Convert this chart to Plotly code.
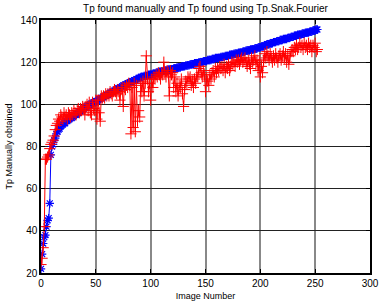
import plotly.graph_objects as go

image_number = list(range(253))

tp_fourier = [
    22, 29, 34, 37, 38, 42, 45, 46, 53, 76,
    80, 81, 83, 84, 86, 87, 88, 88.5, 89.5, 90,
    90.5, 91, 91, 92, 92, 92.5, 93, 93.5, 93.5, 94,
    94.5, 95, 95, 95.5, 96, 96.5, 96.5, 97, 97.5, 98,
    98.5, 98.5, 99, 99.5, 99.5, 100, 100.5, 100.5, 101, 101,
    101.5, 101.5, 102, 102.5, 102.5, 103, 103, 103.5, 104, 104,
    104.5, 104.5, 105, 105.5, 105.5, 106, 106, 106.5, 107, 107,
    107.5, 107.5, 108, 108, 108.5, 109, 109, 109.5, 109.5, 110,
    110, 110.5, 110.5, 111, 111, 111.5, 111.5, 112, 112, 112.5,
    112.5, 113, 113, 113, 113.5, 113.5, 113.5, 113.5, 114, 114,
    114, 114, 114.5, 114.5, 114.5, 115, 115, 115, 115.5, 115.5,
    115.5, 115.5, 116, 116, 116, 116, 116.5, 116.5, 116.5, 116.5,
    116.5, 117, 117, 117, 117.5, 117.5, 117.5, 117.5, 118, 118,
    118, 118, 118.5, 118.5, 118.5, 118.5, 119, 119, 119, 119,
    119.5, 119.5, 119.5, 119.5, 120, 120, 120, 120, 120.5, 120.5,
    120.5, 120.5, 121, 121, 121, 121, 121.5, 121.5, 121.5, 122,
    122, 122, 122, 122, 122.5, 122.5, 122.5, 122.5, 123, 123,
    123, 123, 123.5, 123.5, 123.5, 123.5, 124, 124, 124, 124,
    124.5, 124.5, 124.5, 124.5, 125, 125, 125, 125.5, 125.5, 125.5,
    125.5, 126, 126, 126, 126, 126.5, 126.5, 126.5, 127, 127,
    127, 127.5, 127.5, 127.5, 128, 128, 128.5, 128.5, 128.5, 129,
    129, 129, 129.5, 129.5, 129.5, 130, 130, 130, 130.5, 130.5,
    130.5, 131, 131, 131, 131, 131.5, 131.5, 131.5, 132, 132,
    132, 132.5, 132.5, 132.5, 133, 133, 133, 133, 133.5, 133.5,
    133.5, 134, 134, 134, 134, 134.5, 134.5, 134.5, 135, 135,
    135, 135.5, 135.5,
]

tp_manual = [
    24, 27, 32, 42, 74, 74, 75, 76, 79, 81,
    82, 83, 85, 88, 90, 91, 93, 92, 95, 94,
    93, 96, 94, 95, 93, 96, 95, 94, 96, 95,
    97, 96, 95, 97, 98, 96, 98, 97, 99, 98,
    95, 99, 100, 97, 101, 96, 95, 101, 98, 97,
    102, 93, 102, 96, 92, 104, 103, 104, 103, 105,
    104, 105, 104, 106, 105, 104, 106, 107, 106, 105,
    107, 106, 102, 107, 108, 99, 108, 107, 109, 108,
    110, 109, 86, 108, 89, 110, 87, 109, 92, 97,
    94, 110, 106, 111, 104, 110, 123, 112, 106, 110,
    102, 112, 108, 113, 112, 114, 113, 115, 114, 112,
    115, 114, 120, 115, 113, 116, 115, 104, 116, 114,
    115, 108, 113, 106, 110, 104, 109, 108, 112, 105,
    99, 107, 111, 110, 113, 112, 113, 109, 111, 108,
    112, 110, 114, 113, 117, 118, 115, 113, 116, 114,
    106, 112, 111, 109, 114, 112, 115, 116, 113, 117,
    115, 117, 116, 118, 117, 118, 116, 119, 115, 118,
    117, 119, 116, 118, 120, 119, 120, 118, 121, 120,
    121, 119, 121, 122, 120, 121, 122, 120, 118, 121,
    119, 117, 122, 120, 121, 123, 119, 121, 116, 120,
    113, 118, 115, 121, 124, 122, 125, 123, 121, 124,
    122, 120, 123, 121, 124, 122, 120, 123, 124, 121,
    123, 125, 122, 124, 120, 123, 119, 123, 125, 126,
    125, 127, 126, 128, 126, 127, 129, 127, 128, 126,
    129, 127, 128, 126, 129, 127, 128, 125, 128, 127,
    129, 125, 126,
]

x_ticks = [0, 50, 100, 150, 200, 250, 300]
y_ticks = [20, 40, 60, 80, 100, 120, 140]

fig = go.Figure()
fig.add_trace(go.Scatter(
    x=image_number, y=tp_fourier, mode="lines+markers",
    line=dict(color="#0000ff", width=1),
    marker=dict(symbol="asterisk-open", size=7, color="#0000ff",
                line=dict(color="#0000ff", width=1.2)),
    showlegend=False,
))
fig.add_trace(go.Scatter(
    x=image_number, y=tp_manual, mode="lines+markers",
    line=dict(color="#ff0000", width=1),
    marker=dict(symbol="cross-thin-open", size=8, color="#ff0000",
                line=dict(color="#ff0000", width=1)),
    showlegend=False,
))

font_family = "Liberation Sans, Arial, sans-serif"
fig.update_layout(
    width=387, height=308,
    margin=dict(l=39, r=8, t=20, b=30),
    paper_bgcolor="white", plot_bgcolor="white",
    font=dict(family=font_family, size=10, color="black"),
    title=dict(text="Tp found manually and Tp found using Tp.Snak.Fourier",
               x=0.5, xref="paper", y=1 - 8 / 308, yref="container",
               yanchor="middle", font=dict(size=10)),
)
fig.update_xaxes(
    range=[0, 300], tickvals=x_ticks, ticktext=[str(v) for v in x_ticks],
    showgrid=True, gridcolor="#888888", gridwidth=1.5,
    showline=True, linecolor="black", linewidth=1.5, mirror="ticks",
    ticks="inside", ticklen=4, tickcolor="black",
    zeroline=False, tickfont=dict(size=10),
    title=dict(text="Image Number", font=dict(size=9), standoff=5),
)
fig.update_yaxes(
    range=[20, 140], tickvals=y_ticks, ticktext=[str(v) for v in y_ticks],
    showgrid=True, gridcolor="#222222", gridwidth=1,
    showline=True, linecolor="black", linewidth=1.5, mirror="ticks",
    ticks="inside", ticklen=4, tickcolor="black",
    zeroline=False, tickfont=dict(size=10),
    title=dict(text="Tp Manually obtained", font=dict(size=9), standoff=6),
)

fig.write_html("out.html")
